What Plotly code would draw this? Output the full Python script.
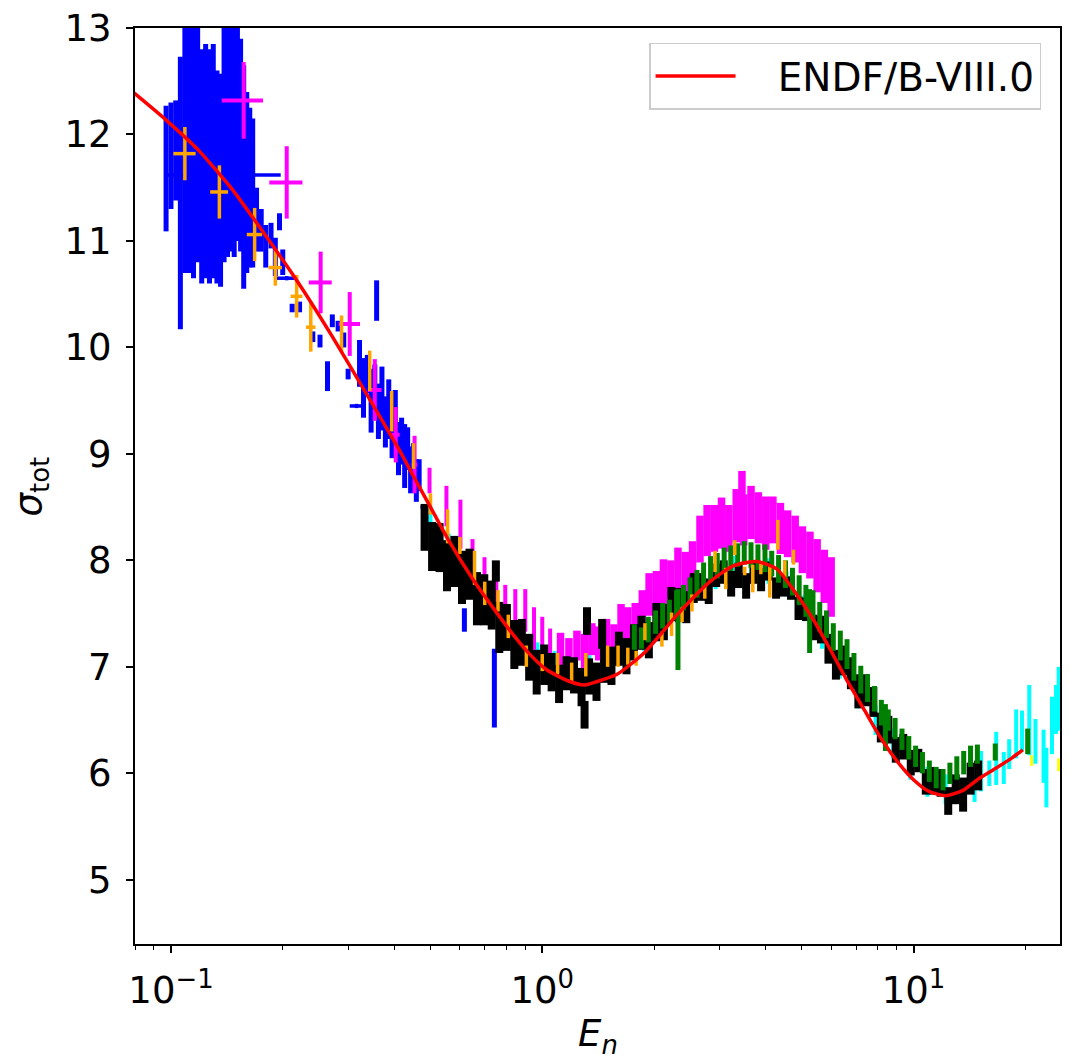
import plotly.graph_objects as go

# ---------------- data ----------------
endf_E = [0.0795, 0.0967, 0.118, 0.145, 0.179, 0.22, 0.27, 0.334, 0.413, 0.45, 0.5, 0.555,
          0.657, 0.757, 0.84, 0.93, 1.03, 1.19, 1.3, 1.4, 1.59, 1.88, 2.31, 2.83, 3.28, 3.78,
          4.28, 4.8, 5.38, 5.95, 6.6, 7.33, 8.1, 9.0, 10.0, 11.0, 12.2, 13.6, 15.0, 16.7, 18.5, 19.7]
endf_sig = [12.39, 12.14, 11.86, 11.50, 11.06, 10.61, 10.12, 9.58, 9.03, 8.79, 8.50, 8.21,
            7.80, 7.50, 7.29, 7.11, 6.97, 6.86, 6.83, 6.86, 6.93, 7.13, 7.49, 7.80, 7.95, 7.99,
            7.92, 7.70, 7.44, 7.17, 6.88, 6.61, 6.35, 6.12, 5.94, 5.83, 5.79, 5.84, 5.95, 6.05, 6.15, 6.22]

cyan_E = [0.50, 0.56, 0.62, 0.70, 0.78, 0.87, 0.97, 1.08, 1.20, 1.34, 1.50, 1.68, 1.88, 2.1,
          2.35, 2.62, 2.93, 3.27, 3.65, 4.07, 4.55, 5.08, 5.67, 6.33, 7.07, 7.9, 8.8, 9.8,
          10.9, 12.2, 13.6, 14.6, 15.2, 16.0, 16.7, 17.5, 18.1, 18.9, 19.6, 20.5, 21.3, 22.4,
          22.8, 23.6, 24.2, 24.6]
cyan_sig = [8.30, 8.05, 7.85, 7.60, 7.40, 7.20, 7.08, 7.00, 6.95, 6.97, 7.05, 7.15, 7.28, 7.48,
            7.62, 7.75, 7.85, 7.92, 7.95, 7.90, 7.78, 7.55, 7.30, 7.02, 6.75, 6.50, 6.28, 6.08,
            5.92, 5.85, 5.75, 5.85, 6.02, 6.00, 6.14, 6.05, 6.18, 6.37, 6.40, 6.50, 6.30, 6.16,
            5.96, 6.45, 6.60, 6.70]
cyan_err = [0.20, 0.20, 0.18, 0.18, 0.17, 0.16, 0.15, 0.15, 0.14, 0.14, 0.14, 0.14, 0.13, 0.13,
            0.12, 0.12, 0.12, 0.12, 0.12, 0.12, 0.12, 0.12, 0.13, 0.13, 0.14, 0.14, 0.14, 0.14,
            0.14, 0.14, 0.10, 0.12, 0.19, 0.12, 0.25, 0.15, 0.14, 0.23, 0.19, 0.33, 0.21, 0.25,
            0.28, 0.27, 0.23, 0.30]

blue_E = [0.097, 0.100, 0.103, 0.106, 0.109, 0.112, 0.115, 0.118, 0.121, 0.124, 0.127, 0.130,
          0.133, 0.136, 0.139, 0.142, 0.145, 0.148, 0.151, 0.154, 0.157, 0.160, 0.163, 0.166,
          0.170, 0.175, 0.180, 0.186, 0.191, 0.196, 0.200, 0.212, 0.222, 0.241, 0.252, 0.264,
          0.272, 0.282, 0.292, 0.300, 0.322, 0.330, 0.338, 0.346, 0.354, 0.358, 0.362, 0.370,
          0.378, 0.386, 0.394, 0.402, 0.410, 0.418, 0.426, 0.434, 0.442, 0.450, 0.458, 0.466,
          0.617, 0.743]
blue_sig = [11.68, 11.80, 11.85, 11.45, 11.95, 11.90, 11.85, 11.95, 11.70, 11.75, 11.70, 11.75,
            11.60, 11.57, 11.95, 12.00, 12.05, 11.95, 12.10, 11.90, 11.60, 11.55, 11.50, 11.45,
            11.20, 11.10, 10.95, 11.05, 10.85, 11.18, 10.80, 10.37, 10.38, 10.10, 10.06, 9.73,
            10.25, 10.20, 10.07, 9.75, 9.85, 9.62, 9.75, 9.50, 9.62, 10.44, 9.40, 9.52,
            9.30, 9.42, 9.18, 9.30, 9.05, 9.12, 8.98, 9.05, 8.85, 8.92, 8.75, 8.80,
            7.44, 6.80]
blue_err = [0.59, 0.50, 0.47, 1.28, 1.25, 1.20, 1.20, 1.15, 1.10, 1.10, 1.10, 1.10,
            1.00, 1.00, 1.15, 1.15, 1.15, 1.10, 1.10, 1.00, 1.05, 0.85, 0.75, 0.70,
            0.30, 0.20, 0.20, 0.12, 0.18, 0.08, 0.12, 0.04, 0.05, 0.05, 0.06, 0.14,
            0.06, 0.05, 0.07, 0.05, 0.22, 0.28, 0.18, 0.30, 0.22, 0.19, 0.26, 0.30,
            0.24, 0.28, 0.22, 0.30, 0.25, 0.22, 0.30, 0.20, 0.22, 0.18, 0.20, 0.15,
            0.11, 0.37]
blue_h_E = [0.1475, 0.205, 0.316, 0.480]
blue_h_sig = [11.62, 10.65, 9.45, 8.50]
blue_h_err = [0.02, 0.02, 0.02, 0.02]
blue_h_xerr = [0.050, 0.015, 0.013, 0.010]

mag_low_E = [0.157, 0.205, 0.253, 0.303, 0.354, 0.403, 0.453, 0.497, 0.552, 0.602, 0.649, 0.699,
             0.752, 0.795, 0.846, 0.900, 0.950, 1.00, 1.05]
mag_low_sig = [12.32, 11.55, 10.61, 10.22, 9.60, 9.18, 8.90, 8.75, 8.51, 8.34, 8.00, 7.83,
               7.73, 7.57, 7.53, 7.53, 7.36, 7.27, 7.16]
mag_low_err = [0.36, 0.34, 0.29, 0.30, 0.29, 0.26, 0.27, 0.12, 0.19, 0.23, 0.20, 0.20,
               0.20, 0.20, 0.20, 0.20, 0.20, 0.20, 0.20]
mag_low_xerr = [0.020, 0.021, 0.018, 0.020, 0.015, 0.010, 0.008, 0, 0, 0, 0, 0,
                0, 0, 0, 0, 0, 0, 0]

mag_E = [1.12, 1.18, 1.24, 1.30, 1.36, 1.42, 1.49, 1.56, 1.63, 1.70, 1.78, 1.86, 1.94, 2.03,
         2.12, 2.22, 2.32, 2.43, 2.54, 2.66, 2.78, 2.91, 3.04, 3.18, 3.33, 3.45, 3.49, 3.65,
         3.82, 4.00, 4.18, 4.38, 4.58, 4.80, 5.02, 5.26, 5.50, 5.75, 6.00]
mag_sig = [7.16, 7.12, 7.20, 7.15, 7.26, 7.22, 7.30, 7.24, 7.42, 7.40, 7.45, 7.55, 7.68, 7.72,
           7.80, 7.82, 7.90, 7.88, 7.98, 8.20, 8.28, 8.30, 8.35, 8.30, 8.42, 8.55, 8.38, 8.45,
           8.40, 8.35, 8.38, 8.30, 8.25, 8.20, 8.10, 8.05, 7.95, 7.85, 7.75]
mag_err = [0.16, 0.15, 0.14, 0.16, 0.15, 0.16, 0.15, 0.16, 0.17, 0.16, 0.15, 0.17, 0.20, 0.18,
           0.21, 0.18, 0.22, 0.20, 0.20, 0.22, 0.24, 0.22, 0.24, 0.22, 0.25, 0.29, 0.24, 0.25,
           0.24, 0.25, 0.22, 0.24, 0.22, 0.22, 0.22, 0.22, 0.25, 0.25, 0.28]

black_E = [0.482, 0.505, 0.529, 0.554, 0.580, 0.608, 0.637, 0.667, 0.698, 0.731, 0.766, 0.803,
           0.841, 0.881, 0.922, 0.966, 1.012, 1.06, 1.11, 1.163, 1.218, 1.276, 1.337, 1.40,
           1.467, 1.536, 1.609, 1.686, 1.766, 1.85, 1.937, 2.029, 2.126, 2.227, 2.332, 2.443,
           2.559, 2.681, 2.808, 2.941, 3.081, 3.227, 3.381, 3.541, 3.709, 3.886, 4.07, 4.264,
           4.466, 4.678, 4.90, 5.133, 5.377, 5.632, 5.90, 6.18, 6.474, 6.781, 7.103, 7.441,
           7.794, 8.164, 8.552, 8.959, 9.384, 9.83, 10.3, 10.79, 11.3, 11.83, 12.4, 12.99,
           13.6, 14.25, 14.93, 0.75, 1.30, 1.32, 1.45]
black_sig = [8.31, 8.13, 8.12, 7.95, 7.99, 7.84, 7.87, 7.64, 7.63, 7.58, 7.37, 7.37,
             7.21, 7.23, 7.09, 6.95, 7.02, 6.95, 6.84, 6.94, 6.92, 6.81, 6.91, 6.86,
             7.02, 7.01, 7.17, 7.10, 7.23, 7.32, 7.25, 7.42, 7.42, 7.59, 7.58, 7.56,
             7.74, 7.75, 7.71, 7.86, 7.89, 7.78, 7.86, 7.76, 7.89, 7.82, 7.90, 7.74,
             7.76, 7.74, 7.55, 7.54, 7.37, 7.35, 7.17, 7.02, 7.06, 6.94, 6.77, 6.78,
             6.67, 6.43, 6.41, 6.22, 6.25, 6.10, 6.12, 5.92, 5.93, 5.91, 5.74, 5.85,
             5.80, 5.95, 5.98, 7.90, 6.55, 7.43, 7.31]
black_err = [0.22, 0.23, 0.23, 0.24, 0.24, 0.25, 0.24, 0.25, 0.24, 0.23, 0.24, 0.22,
             0.23, 0.22, 0.22, 0.21, 0.19, 0.18, 0.18, 0.16, 0.17, 0.18, 0.17, 0.18,
             0.17, 0.18, 0.16, 0.17, 0.17, 0.16, 0.17, 0.18, 0.17, 0.16, 0.16, 0.15,
             0.14, 0.13, 0.12, 0.11, 0.11, 0.12, 0.12, 0.12, 0.11, 0.11, 0.09, 0.10,
             0.10, 0.11, 0.11, 0.11, 0.12, 0.13, 0.14, 0.14, 0.14, 0.15, 0.16, 0.15,
             0.14, 0.14, 0.13, 0.12, 0.12, 0.12, 0.11, 0.12, 0.13, 0.13, 0.13, 0.14,
             0.16, 0.15, 0.14, 0.10, 0.13, 0.13, 0.14]

green_E = [1.77, 1.85, 1.93, 2.02, 2.11, 2.20, 2.30, 2.32, 2.40, 2.50, 2.61, 2.72, 2.84, 2.96,
           3.09, 3.22, 3.36, 3.50, 3.65, 3.81, 3.98, 4.15, 4.33, 4.52, 4.72, 4.92, 5.13, 5.25,
           5.36, 5.59, 5.83, 6.08, 6.35, 6.62, 6.91, 7.21, 7.52, 7.85, 8.19, 8.40, 8.55, 8.92,
           9.31, 9.71, 10.13, 10.57, 11.03, 11.51, 12.01, 12.53, 13.08, 13.65, 14.24, 14.86,
           16.6, 20.3]
green_sig = [7.28, 7.27, 7.35, 7.42, 7.48, 7.52, 7.60, 7.35, 7.65, 7.72, 7.78, 7.85, 7.92, 7.95,
             8.00, 8.02, 8.05, 8.07, 8.05, 8.03, 8.02, 7.97, 7.92, 7.87, 7.80, 7.72, 7.62, 7.43,
             7.58, 7.47, 7.40, 7.28, 7.20, 7.12, 7.00, 6.88, 6.80, 6.70, 6.57, 6.43, 6.50, 6.42,
             6.32, 6.24, 6.16, 6.10, 6.02, 5.96, 5.94, 6.00, 6.05, 6.10, 6.16, 6.18,
             6.20, 6.30]
green_err = [0.12, 0.10, 0.12, 0.11, 0.12, 0.11, 0.12, 0.38, 0.12, 0.12, 0.13, 0.13, 0.12, 0.12,
             0.12, 0.12, 0.11, 0.11, 0.12, 0.12, 0.13, 0.12, 0.13, 0.13, 0.13, 0.14, 0.15, 0.30,
             0.14, 0.14, 0.13, 0.13, 0.14, 0.14, 0.13, 0.13, 0.13, 0.12, 0.12, 0.22, 0.10, 0.10,
             0.10, 0.11, 0.10, 0.10, 0.10, 0.10, 0.10, 0.10, 0.11, 0.11, 0.10, 0.09,
             0.08, 0.12]

orange_E = [0.109, 0.135, 0.168, 0.191, 0.218, 0.238, 0.288, 0.343, 0.393, 0.45, 0.50, 0.556,
            0.60, 0.657, 0.70, 0.76, 0.81, 0.906, 1.0, 1.1, 1.2, 1.31, 1.5, 1.6, 1.70, 1.79,
            1.89, 2.1, 2.23, 2.38, 2.53, 2.74, 2.92, 3.12, 3.30, 3.51, 3.69, 3.88, 4.10, 4.31,
            4.50, 4.75]
orange_sig = [11.82, 11.46, 11.06, 10.75, 10.48, 10.19, 10.13, 9.78, 9.40, 8.98, 8.53, 8.32,
              8.14, 7.93, 7.69, 7.62, 7.38, 7.10, 7.04, 7.03, 6.95, 7.02, 7.10, 7.10, 7.10, 7.08,
              7.33, 7.26, 7.40, 7.49, 7.60, 7.70, 7.99, 7.83, 8.12, 7.90, 7.83, 7.92, 7.80, 8.24,
              7.92, 8.03]
orange_err = [0.25, 0.25, 0.25, 0.17, 0.20, 0.23, 0.17, 0.19, 0.19, 0.12, 0.10, 0.16,
              0.08, 0.16, 0.11, 0.10, 0.11, 0.10, 0.08, 0.10, 0.09, 0.11, 0.10, 0.10, 0.08, 0.07,
              0.08, 0.07, 0.11, 0.07, 0.08, 0.06, 0.10, 0.10, 0.07, 0.04, 0.13, 0.05, 0.15, 0.14,
              0.08, 0.07]
orange_xerr = [0.0075, 0.0075, 0.008, 0.008, 0.008, 0.007, 0, 0, 0, 0, 0, 0,
               0, 0, 0, 0, 0, 0, 0, 0, 0, 0, 0, 0, 0, 0,
               0, 0, 0, 0, 0, 0, 0, 0, 0, 0, 0, 0, 0, 0,
               0, 0]

yellow_E = [20.8, 24.6]
yellow_sig = [6.12, 6.08]
yellow_err = [0.05, 0.06]

x_tickvals = [0.1, 1, 10]
x_ticktext = ["10<sup>\u22121</sup>", "10<sup>0</sup>", "10<sup>1</sup>"]
x_minor = [0.08, 0.09, 0.2, 0.3, 0.4, 0.5, 0.6, 0.7, 0.8, 0.9, 2, 3, 4, 5, 6, 7, 8, 9, 20]
y_tickvals = [5, 6, 7, 8, 9, 10, 11, 12, 13]

FONT = "DejaVu Sans"
fig = go.Figure()


def add_err(E, s, e, color, thick, xerr=None):
    kw = {}
    if xerr is not None:
        kw["error_x"] = dict(type="data", array=xerr, color=color, thickness=thick, width=0)
    fig.add_trace(go.Scatter(
        x=E, y=s, mode="markers",
        marker=dict(size=1, color=color),
        error_y=dict(type="data", array=e, color=color, thickness=thick, width=0),
        showlegend=False, hoverinfo="skip", **kw))


add_err(cyan_E, cyan_sig, cyan_err, "#00ffff", 4)
add_err(blue_E, blue_sig, blue_err, "#0000ff", 5)
add_err(blue_h_E, blue_h_sig, blue_h_err, "#0000ff", 3.5, xerr=blue_h_xerr)
add_err(mag_low_E, mag_low_sig, mag_low_err, "#ff00ff", 4, xerr=mag_low_xerr)
add_err(mag_E, mag_sig, mag_err, "#ff00ff", 7.5)
add_err(black_E, black_sig, black_err, "#000000", 8)
add_err(green_E, green_sig, green_err, "#008000", 5)
add_err(orange_E, orange_sig, orange_err, "#ffa500", 3.5, xerr=orange_xerr)
add_err(yellow_E, yellow_sig, yellow_err, "#ffff00", 3)

fig.add_trace(go.Scatter(
    x=endf_E, y=endf_sig, mode="lines", name="\u00a0\u00a0\u00a0ENDF/B-VIII.0",
    line=dict(color="#ff0000", width=3.5, shape="spline", smoothing=0.6),
    hoverinfo="skip"))

fig.update_layout(
    width=1069, height=1057,
    margin=dict(l=135, r=7, t=22, b=113),
    paper_bgcolor="white", plot_bgcolor="white",
    font=dict(family=FONT, size=37, color="black"),
    showlegend=True,
    legend=dict(x=0.9795, y=0.984, xanchor="right", yanchor="top",
                bgcolor="rgba(255,255,255,0.85)", bordercolor="#cccccc", borderwidth=1.5,
                font=dict(family=FONT, size=39), itemwidth=80),
)

fig.update_xaxes(
    type="log", range=[-1.0969, 1.3945],
    tickmode="array", tickvals=x_tickvals, ticktext=x_ticktext,
    ticks="outside", ticklen=7, tickwidth=1.5, tickcolor="black",
    minor=dict(tickmode="array", tickvals=x_minor, ticks="outside", ticklen=4,
               tickwidth=1.2, tickcolor="black", showgrid=False),
    showgrid=False, zeroline=False,
    showline=True, linecolor="black", linewidth=2, mirror=True,
    tickfont=dict(family=FONT, size=37), ticklabelstandoff=6,
)
fig.update_yaxes(
    range=[4.397, 13.0],
    tickmode="array", tickvals=y_tickvals,
    ticks="outside", ticklen=7, tickwidth=1.5, tickcolor="black",
    showgrid=False, zeroline=False,
    showline=True, linecolor="black", linewidth=2, mirror=True,
    tickfont=dict(family=FONT, size=37), ticklabelstandoff=7,
)

fig.add_annotation(text="<i>\u03c3</i><sub>tot</sub>", xref="paper", yref="paper",
                   x=-0.112, y=0.5, xanchor="center", yanchor="middle", textangle=-90,
                   showarrow=False, font=dict(family=FONT, size=37))
fig.add_annotation(text="<i>E</i><sub><i>n</i></sub>", xref="paper", yref="paper",
                   x=0.5, y=-0.100, xanchor="center", yanchor="middle",
                   showarrow=False, font=dict(family=FONT, size=37))

fig.write_html("out.html")
